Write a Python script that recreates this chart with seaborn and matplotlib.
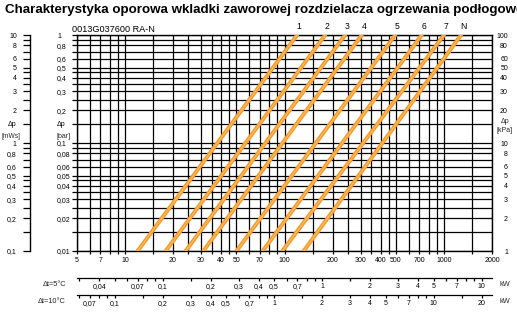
import numpy as np
import pandas as pd
import matplotlib
matplotlib.use("Agg")
import matplotlib.pyplot as plt
import seaborn as sns
from matplotlib.ticker import FixedLocator, FixedFormatter, NullLocator

sns.set_theme(style="white")
plt.rcParams["font.family"] = ["Liberation Sans", "DejaVu Sans"]

# ---- data ----
series = ["1", "2", "3", "4", "5", "6", "7", "N"]
q_at_low = [12, 18, 24, 31, 50, 73, 97, 132]            # l/h at dp = 0.01 bar
q_at_high = [120, 180, 240, 305, 495, 725, 1000, 1280]  # l/h at dp = 1 bar
dp_low, dp_high = 0.01, 1.0

x_grid = [5, 6, 7, 8, 9, 10, 15, 20, 25, 30, 35, 40, 45, 50, 60, 70, 80, 90, 100,
          150, 200, 250, 300, 350, 400, 450, 500, 600, 700, 800, 900, 1000, 1500, 2000]
x_lab_vals = [5, 7, 10, 20, 30, 40, 50, 70, 100, 200, 300, 400, 500, 700, 1000, 2000]

bar_grid = [1, 0.9, 0.8, 0.7, 0.6, 0.5, 0.45, 0.4, 0.35, 0.3, 0.25, 0.2, 0.15, 0.1,
            0.09, 0.08, 0.07, 0.06, 0.05, 0.045, 0.04, 0.035, 0.03, 0.025, 0.02, 0.015, 0.01]
bar_labels = {1: "1", 0.8: "0,8", 0.6: "0,6", 0.5: "0,5", 0.4: "0,4", 0.3: "0,3",
              0.2: "0,2", 0.15: "\u0394p", 0.1: "0,1", 0.08: "0,08", 0.06: "0,06",
              0.05: "0,05", 0.04: "0,04", 0.03: "0,03", 0.02: "0,02", 0.01: "0,01"}
mws_labels = {10: "10", 8: "8", 6: "6", 5: "5", 4: "4", 3: "3", 2: "2", 1.5: "\u0394p",
              1: "1", 0.8: "0,8", 0.6: "0,6", 0.5: "0,5", 0.4: "0,4", 0.3: "0,3",
              0.2: "0,2", 0.1: "0,1"}
kpa_ticks = [100, 80, 60, 50, 40, 30, 20, 10, 8, 6, 5, 4, 3, 2, 1]
kpa_labels = ["100", "80", "60", "50", "40", "30", "20", "10", "8", "6", "5", "4", "3", "2", "1"]

p5_ticks = [0.03, 0.04, 0.05, 0.06, 0.07, 0.08, 0.09, 0.1, 0.15, 0.2, 0.3, 0.4, 0.5, 0.6,
            0.7, 0.8, 0.9, 1, 1.5, 2, 3, 4, 5, 6, 7, 8, 9, 10]
p5_labels = {0.04: "0,04", 0.07: "0,07", 0.1: "0,1", 0.2: "0,2", 0.3: "0,3", 0.4: "0,4",
             0.5: "0,5", 0.7: "0,7", 1: "1", 2: "2", 3: "3", 4: "4", 5: "5", 7: "7", 10: "10"}
p10_ticks = [0.06, 0.07, 0.08, 0.09, 0.1, 0.15, 0.2, 0.3, 0.4, 0.5, 0.6, 0.7, 0.8, 0.9,
             1, 1.5, 2, 3, 4, 5, 6, 7, 8, 9, 10, 15, 20]
p10_labels = {0.07: "0,07", 0.1: "0,1", 0.2: "0,2", 0.3: "0,3", 0.4: "0,4", 0.5: "0,5",
              0.7: "0,7", 1: "1", 2: "2", 3: "3", 4: "4", 5: "5", 7: "7", 10: "10", 20: "20"}

W, H = 517, 314
fig = plt.figure(figsize=(W / 100, H / 100), dpi=100)
fig.patch.set_facecolor("white")

def fx(px):
    return px / W

def fy(py):
    return 1 - py / H

L, R, T, B = 77, 492, 35, 251
ax = fig.add_axes([fx(L), fy(B), (R - L) / W, (B - T) / H])
ax.set_xscale("log")
ax.set_yscale("log")
ax.set_xlim(5, 2000)
ax.set_ylim(0.01, 1)
ax.set_facecolor("white")

# lines
rows = []
for s, ql, qh in zip(series, q_at_low, q_at_high):
    rows.append({"series": s, "Q": ql, "dp": dp_low})
    rows.append({"series": s, "Q": qh, "dp": dp_high})
df = pd.DataFrame(rows)
sns.lineplot(data=df, x="Q", y="dp", units="series", estimator=None, sort=False,
             color="#f39a2c", lw=2.9, ax=ax, legend=False, zorder=5)
sns.lineplot(data=df, x="Q", y="dp", units="series", estimator=None, sort=False,
             color="#fbbb5c", lw=0.9, ax=ax, legend=False, zorder=6)
ax.set_xlabel("")
ax.set_ylabel("")

# x ticks / grid
ax.xaxis.set_major_locator(FixedLocator(x_grid))
ax.xaxis.set_major_formatter(FixedFormatter([str(v) if v in x_lab_vals else "" for v in x_grid]))
ax.xaxis.set_minor_locator(NullLocator())
ax.yaxis.set_major_locator(FixedLocator(bar_grid))
ax.yaxis.set_major_formatter(FixedFormatter([bar_labels.get(v, "") for v in bar_grid]))
ax.yaxis.set_minor_locator(NullLocator())
ax.grid(True, which="major", color="black", lw=0.9)
ax.tick_params(axis="x", which="major", direction="out", length=2.5, width=0.9,
               color="black", labelsize=5, pad=1.5, labelcolor="black", bottom=True)
ax.tick_params(axis="y", which="major", direction="out", length=3.6, width=0.9,
               color="black", labelsize=5, pad=10.8, labelcolor="black", left=True)
for t in ax.get_yticklabels():
    t.set_horizontalalignment("left")
for sp in ax.spines.values():
    sp.set_color("black")
    sp.set_linewidth(1.0)

# top labels
for s, qh in zip(series, q_at_high):
    ax.annotate(s, xy=(qh, dp_high), xytext=(1.5, 6.0), textcoords="offset points",
                ha="center", va="center", fontsize=6.2, color="black", annotation_clip=False)

# mWs axis
axm = fig.add_axes([fx(30), fy(B), 0.0005, (B - T) / H])
axm.set_yscale("log")
axm.set_ylim(0.1, 10)
mws_grid = [v * 10 for v in bar_grid]
axm.yaxis.set_major_locator(FixedLocator(mws_grid))
lab_m = []
for v in mws_grid:
    key = min(mws_labels.keys(), key=lambda k: abs(k - v))
    lab_m.append(mws_labels[key] if abs(key - v) < 1e-9 * max(1, v) + 1e-9 else "")
axm.yaxis.set_major_formatter(FixedFormatter(lab_m))
axm.yaxis.set_minor_locator(NullLocator())
axm.set_xticks([])
for k in ["right", "top", "bottom"]:
    axm.spines[k].set_visible(False)
axm.spines["left"].set_color("black")
axm.spines["left"].set_linewidth(1.0)
axm.tick_params(axis="y", direction="out", length=5, width=0.9, color="black",
                labelsize=5, pad=4.5, labelcolor="black", left=True)
axm.set_facecolor("none")

# kPa axis
axk = ax.twinx()
axk.set_yscale("log")
axk.set_ylim(1, 100)
axk.yaxis.set_major_locator(FixedLocator(kpa_ticks))
axk.yaxis.set_major_formatter(FixedFormatter(kpa_labels))
axk.yaxis.set_minor_locator(NullLocator())
axk.grid(False)
axk.tick_params(axis="y", length=0, labelsize=5, pad=11.5, labelcolor="black")
for t in axk.get_yticklabels():
    t.set_horizontalalignment("right")
for sp in axk.spines.values():
    sp.set_visible(False)

# power axes
k5 = 1.163 * 5 / 1000
k10 = 1.163 * 10 / 1000
def power_axis(py, k, ticks, labels):
    a = fig.add_axes([fx(L), fy(py), (R - L) / W, 0.0005])
    a.set_xscale("log")
    a.set_xlim(5 * k, 2000 * k)
    a.xaxis.set_major_locator(FixedLocator(ticks))
    a.xaxis.set_major_formatter(FixedFormatter([labels.get(v, "") for v in ticks]))
    a.xaxis.set_minor_locator(NullLocator())
    a.set_yticks([])
    for s_ in ["left", "right", "top"]:
        a.spines[s_].set_visible(False)
    a.spines["bottom"].set_color("black")
    a.spines["bottom"].set_linewidth(0.9)
    a.tick_params(axis="x", direction="out", length=2.5, width=0.9, color="black",
                  labelsize=5, pad=1.2, labelcolor="black", bottom=True)
    a.set_facecolor("none")
    return a

power_axis(278, k5, p5_ticks, p5_labels)
power_axis(294.5, k10, p10_ticks, p10_labels)

fs = 5
fig.text(fx(66), fy(284), "\u0394t=5\u00b0C", ha="right", va="center", fontsize=5.3)
fig.text(fx(66), fy(301.5), "\u0394t=10\u00b0C", ha="right", va="center", fontsize=5.3)
fig.text(fx(505), fy(284), "kW", ha="center", va="center", fontsize=5.3)
fig.text(fx(505), fy(301.5), "kW", ha="center", va="center", fontsize=5.3)

fig.text(fx(1.5), fy(137), "[mWs]", ha="left", va="center", fontsize=4.8)
fig.text(fx(64), fy(137), "[bar]", ha="center", va="center", fontsize=fs)
fig.text(fx(505), fy(121.5), "\u0394p", ha="center", va="center", fontsize=fs)
fig.text(fx(505), fy(130), "[kPa]", ha="center", va="center", fontsize=fs)

fig.text(fx(5), fy(10), "Charakterystyka oporowa wkladki zaworowej rozdzielacza ogrzewania pod\u0142ogowego",
         ha="left", va="center", fontsize=9.6, fontweight="bold", color="black")
fig.text(fx(72), fy(29.5), "0013G037600 RA-N", ha="left", va="center", fontsize=6.6, color="black")

fig.savefig("out.png", dpi=100, facecolor="white")
